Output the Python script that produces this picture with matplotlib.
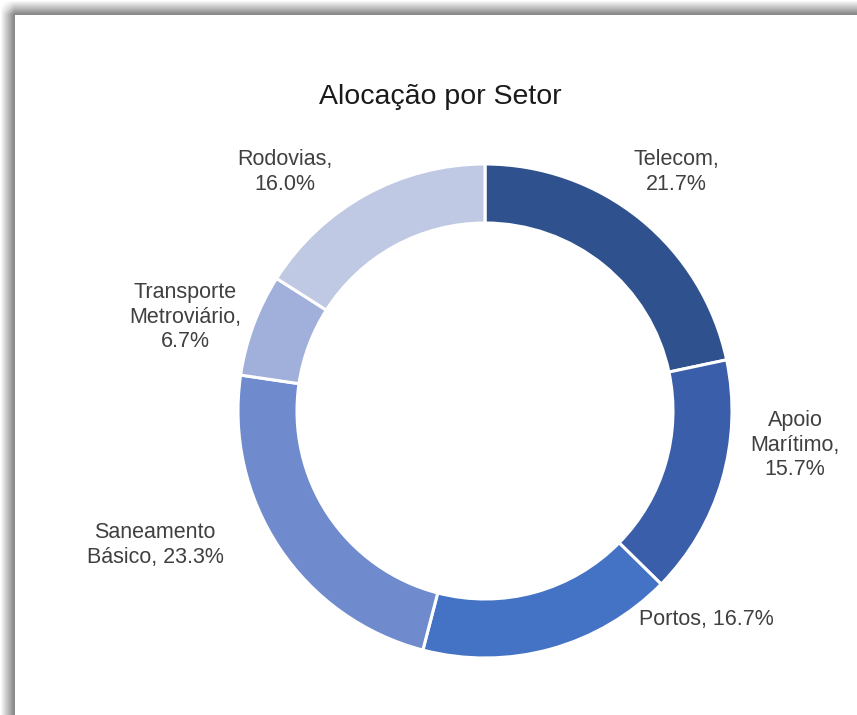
import numpy as np
import matplotlib
matplotlib.use('Agg')
import matplotlib.pyplot as plt

plt.rcParams['font.family'] = ['Liberation Sans', 'DejaVu Sans']

# Data
setores = ['Telecom', 'Apoio\nMarítimo', 'Portos', 'Saneamento\nBásico', 'Transporte\nMetroviário', 'Rodovias']
valores = [21.7, 15.7, 16.7, 23.3, 6.7, 16.0]
cores = ['#2F528F', '#3A5EA9', '#4472C4', '#6F8BCE', '#A1AFDB', '#BFC9E4']
# label text placement (pixel coords, origin at bottom-left)
label_pos = [(676, 543), (795, 270), (706, 95), (155, 170), (185, 398), (285, 543)]
label_txt = ['Telecom,\n21.7%', 'Apoio\nMarítimo,\n15.7%', 'Portos, 16.7%',
             'Saneamento\nBásico, 23.3%', 'Transporte\nMetroviário,\n6.7%', 'Rodovias,\n16.0%']

W, H = 857, 715
fig = plt.figure(figsize=(W / 100, H / 100), dpi=100)

# frame shadow on left and top edges
bg = fig.add_axes([0, 0, 1, 1])
yy, xx = np.mgrid[0:H, 0:W]
def ramp(v):
    return np.clip(v / 13.0, 0, 1) * 0.45 * (v < 15)
def fade(v):
    return np.clip((v - 2) / 12.0, 0, 1)
dark = np.maximum(ramp(xx) * fade(yy), ramp(yy) * fade(xx))
img = 1 - dark
bg.imshow(img, cmap='gray', vmin=0, vmax=1, extent=(0, W, 0, H), origin='upper', aspect='auto')
bg.set_xlim(0, W)
bg.set_ylim(0, H)
bg.axis('off')

ax = fig.add_axes([0, 0, 1, 1])
ax.patch.set_alpha(0)
radius = 247
ax.pie(valores, colors=cores, startangle=90, counterclock=False,
       center=(485, 304), radius=radius,
       wedgeprops=dict(width=59, edgecolor='white', linewidth=2.2))
ax.set_xlim(0, W)
ax.set_ylim(0, H)
ax.set_aspect('auto')
ax.axis('off')

for (x, y), t in zip(label_pos, label_txt):
    ax.text(x, y, t, ha='center', va='center', fontsize=15.5, color='#404040', linespacing=1.2)

ax.text(440, 618, 'Alocação por Setor', ha='center', va='center', fontsize=20.5, color='#1a1a1a')

fig.savefig('out.png', dpi=100)
